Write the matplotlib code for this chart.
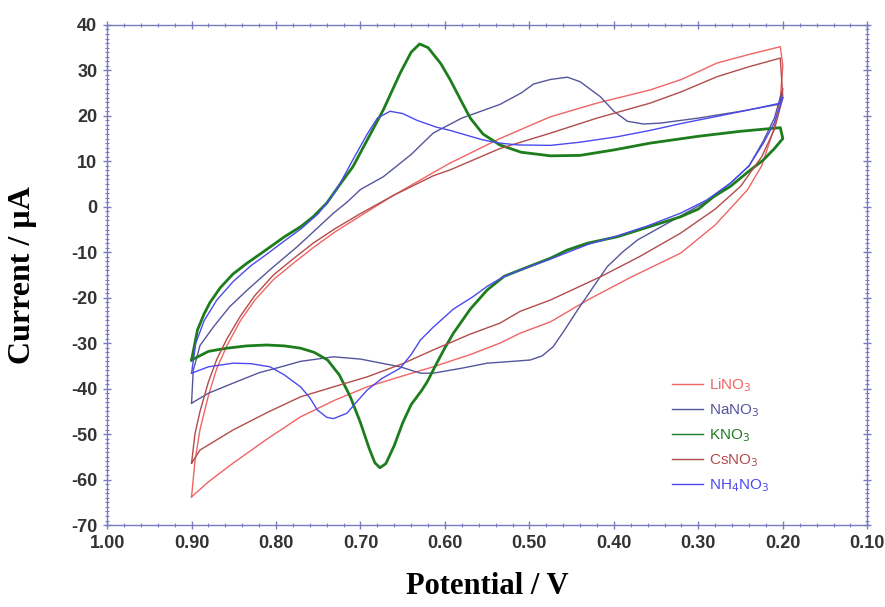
import matplotlib
matplotlib.use("Agg")
import matplotlib.pyplot as plt
from matplotlib.ticker import MultipleLocator, FormatStrFormatter

plt.rcParams["axes.unicode_minus"] = False

# --------------------------------------------------
# Data (potential in V, current in uA)
# each CV: upper branch and lower branch, both listed from 0.9 V to 0.2 V
# --------------------------------------------------
labels = ["LiNO$_3$", "NaNO$_3$", "KNO$_3$", "CsNO$_3$", "NH$_4$NO$_3$"]
colors = ["#f06464", "#55559c", "#1d7d1d", "#b24c4c", "#4a4af0"]
widths = [1.0, 1.0, 2.0, 1.0, 1.0]

# LiNO3
li_up_v = [0.900, 0.896, 0.890, 0.880, 0.870, 0.858, 0.842, 0.825, 0.803, 0.780, 0.756, 0.730,
           0.700, 0.661, 0.614, 0.594, 0.535, 0.475, 0.420, 0.357, 0.320, 0.278, 0.240, 0.203]
li_up_i = [-63.8, -56.0, -49.0, -41.5, -35.5, -30.5, -25.0, -20.5, -16.0, -12.5, -9.0, -5.5,
           -2.0, 2.5, 7.5, 9.6, 15.0, 19.8, 22.8, 25.7, 28.0, 31.6, 33.5, 35.2]
li_lo_v = [0.900, 0.880, 0.851, 0.810, 0.771, 0.730, 0.692, 0.650, 0.614, 0.570, 0.535, 0.511,
           0.475, 0.431, 0.380, 0.321, 0.280, 0.242, 0.225, 0.211, 0.203, 0.200]
li_lo_i = [-63.8, -60.5, -56.4, -51.0, -46.2, -42.5, -39.6, -37.2, -35.2, -32.5, -30.0, -27.8,
           -25.3, -20.5, -15.5, -10.2, -4.0, 3.7, 9.0, 16.9, 24.0, 31.0]

# NaNO3
na_up_v = [0.900, 0.898, 0.890, 0.874, 0.855, 0.834, 0.805, 0.775, 0.750, 0.732, 0.716, 0.700,
           0.673, 0.640, 0.614, 0.580, 0.535, 0.510, 0.495, 0.475, 0.455, 0.440, 0.416, 0.400,
           0.384, 0.365, 0.345, 0.300, 0.250, 0.203]
na_up_i = [-43.2, -36.0, -30.5, -26.4, -22.0, -18.3, -13.5, -8.8, -4.5, -1.4, 1.0, 3.8,
           6.6, 11.5, 16.2, 19.5, 22.5, 25.0, 27.0, 28.0, 28.5, 27.5, 24.2, 21.0,
           18.8, 18.2, 18.4, 19.5, 21.0, 22.6]
na_lo_v = [0.900, 0.880, 0.851, 0.820, 0.790, 0.771, 0.732, 0.700, 0.653, 0.629, 0.614, 0.580,
           0.550, 0.520, 0.499, 0.485, 0.472, 0.458, 0.443, 0.425, 0.408, 0.390, 0.372, 0.345,
           0.321, 0.290, 0.262, 0.240, 0.223, 0.210, 0.200]
na_lo_i = [-43.2, -41.0, -38.8, -36.5, -35.0, -34.0, -33.0, -33.5, -35.2, -36.6, -36.6, -35.5,
           -34.4, -34.0, -33.7, -32.8, -30.8, -27.0, -22.7, -17.8, -13.2, -10.0, -7.3, -4.5,
           -2.0, 1.2, 5.2, 9.0, 14.5, 19.5, 26.0]

# KNO3
k_up_v = [0.900, 0.893, 0.885, 0.878, 0.866, 0.851, 0.835, 0.815, 0.790, 0.771, 0.756, 0.740,
          0.724, 0.709, 0.692, 0.673, 0.653, 0.640, 0.630, 0.620, 0.605, 0.594, 0.580, 0.570,
          0.555, 0.535, 0.510, 0.475, 0.440, 0.400, 0.357, 0.300, 0.250, 0.203]
k_up_i = [-33.7, -27.1, -23.5, -21.0, -17.8, -14.8, -12.5, -9.9, -6.6, -4.4, -2.2, 0.8,
          5.0, 8.8, 14.7, 21.3, 29.4, 34.0, 35.8, 35.0, 31.5, 28.0, 23.0, 19.5,
          16.0, 13.6, 12.0, 11.2, 11.3, 12.5, 14.0, 15.5, 16.6, 17.4]
k_lo_v = [0.900, 0.880, 0.858, 0.835, 0.811, 0.790, 0.771, 0.755, 0.739, 0.725, 0.712, 0.700,
          0.690, 0.683, 0.677, 0.670, 0.660, 0.650, 0.640, 0.628, 0.621, 0.610, 0.600, 0.590,
          0.570, 0.550, 0.530, 0.511, 0.475, 0.455, 0.431, 0.396, 0.360, 0.321, 0.300, 0.282,
          0.262, 0.239, 0.223, 0.210, 0.200]
k_lo_i = [-33.7, -31.8, -31.1, -30.6, -30.4, -30.6, -31.1, -32.0, -33.7, -37.0, -41.8, -47.5,
          -53.0, -56.3, -57.4, -56.5, -52.5, -47.5, -43.5, -40.5, -38.5, -34.5, -31.0, -27.8,
          -22.5, -18.3, -15.3, -13.9, -11.3, -9.5, -8.0, -6.6, -4.5, -2.2, -0.5, 2.2,
          4.5, 8.0, 10.3, 12.8, 15.0]

# CsNO3
cs_up_v = li_up_v
cs_up_i = [-56.4, -50.0, -45.0, -38.5, -33.5, -29.0, -24.0, -19.5, -15.0, -11.5, -8.0, -4.8,
           -1.5, 2.5, 6.8, 8.1, 12.8, 16.2, 19.5, 22.8, 25.3, 28.6, 30.8, 32.7]
cs_lo_v = [0.900, 0.890, 0.851, 0.810, 0.771, 0.730, 0.692, 0.650, 0.614, 0.570, 0.535, 0.511,
           0.475, 0.416, 0.370, 0.321, 0.280, 0.250, 0.225, 0.210, 0.200]
cs_lo_i = [-56.4, -53.5, -49.1, -45.2, -41.8, -39.5, -37.4, -34.5, -31.5, -28.0, -25.6, -23.0,
           -20.5, -15.4, -11.0, -5.8, -0.5, 4.5, 11.0, 17.0, 24.0]

# NH4NO3
nh_up_v = [0.900, 0.895, 0.885, 0.870, 0.851, 0.830, 0.810, 0.790, 0.770, 0.750, 0.735, 0.724,
           0.710, 0.692, 0.680, 0.665, 0.650, 0.633, 0.610, 0.594, 0.570, 0.555, 0.535, 0.514,
           0.475, 0.440, 0.396, 0.357, 0.318, 0.280, 0.240, 0.203]
nh_up_i = [-36.6, -30.0, -25.0, -20.5, -16.5, -13.0, -10.3, -7.5, -4.8, -1.5, 2.0, 5.2,
           10.0, 16.0, 19.5, 21.0, 20.5, 19.0, 17.5, 16.8, 15.5, 14.7, 14.0, 13.6,
           13.5, 14.2, 15.4, 16.8, 18.4, 19.8, 21.3, 22.8]
nh_lo_v = [0.900, 0.880, 0.851, 0.830, 0.807, 0.790, 0.771, 0.760, 0.751, 0.740, 0.732, 0.716,
           0.705, 0.692, 0.675, 0.653, 0.640, 0.629, 0.614, 0.590, 0.567, 0.550, 0.531, 0.511,
           0.475, 0.431, 0.396, 0.360, 0.321, 0.290, 0.262, 0.240, 0.223, 0.210, 0.200]
nh_lo_i = [-36.6, -35.2, -34.4, -34.5, -35.2, -37.0, -39.6, -42.0, -44.7, -46.3, -46.6, -45.4,
           -43.0, -40.3, -37.8, -35.5, -32.5, -29.3, -26.5, -22.5, -19.8, -17.5, -15.4, -13.9,
           -11.5, -8.3, -6.4, -4.2, -1.4, 1.5, 5.2, 9.0, 14.0, 18.5, 24.0]

curves = [
    (li_up_v, li_up_i, li_lo_v, li_lo_i),
    (na_up_v, na_up_i, na_lo_v, na_lo_i),
    (k_up_v, k_up_i, k_lo_v, k_lo_i),
    (cs_up_v, cs_up_i, cs_lo_v, cs_lo_i),
    (nh_up_v, nh_up_i, nh_lo_v, nh_lo_i),
]

# --------------------------------------------------
# Plot
# --------------------------------------------------
fig = plt.figure(figsize=(8.85, 6.07), dpi=100)
ax = fig.add_axes([0.121, 0.135, 0.859, 0.824])

for (uv, ui, lv, li), lab, col, lw in zip(curves, labels, colors, widths):
    # closed loop: upper branch out to 0.2 V, lower branch back to 0.9 V
    xs = list(uv) + list(lv[::-1])
    ys = list(ui) + list(li[::-1])
    ax.plot(xs, ys, color=col, lw=lw, label=lab)

ax.set_xlim(1.0, 0.1)
ax.set_ylim(-70, 40)

ax.xaxis.set_major_locator(MultipleLocator(0.1))
ax.xaxis.set_minor_locator(MultipleLocator(0.02))
ax.yaxis.set_major_locator(MultipleLocator(10))
ax.yaxis.set_minor_locator(MultipleLocator(1))
ax.xaxis.set_major_formatter(FormatStrFormatter("%.2f"))

spine_col = "#7a7ac0"
for s in ax.spines.values():
    s.set_color(spine_col)
    s.set_linewidth(1.0)

ax.tick_params(which="both", direction="inout", colors=spine_col,
               top=True, right=True)
ax.tick_params(which="major", length=6, width=1.0)
ax.tick_params(which="minor", length=3, width=0.8)
ax.tick_params(axis="both", labelcolor="#333333", labelsize=13, pad=4)
for t in ax.get_xticklabels() + ax.get_yticklabels():
    t.set_fontweight("bold")
    t.set_family("Liberation Sans")

ax.set_xlabel("Potential / V", fontsize=22, fontweight="bold", family="Liberation Serif")
ax.set_ylabel("Current / µA", fontsize=23, fontweight="bold", family="Liberation Serif")
ax.xaxis.set_label_coords(0.5, -0.094)
ax.yaxis.set_label_coords(-0.092, 0.5)

leg = ax.legend(loc="upper left", bbox_to_anchor=(0.725, 0.325), frameon=False,
                handlelength=2.0, handletextpad=0.4, labelspacing=0.55,
                labelcolor="linecolor", prop={"family": "Liberation Sans", "size": 11})
for line in leg.get_lines():
    line.set_linewidth(1.0)

fig.savefig("out.png", dpi=100)
